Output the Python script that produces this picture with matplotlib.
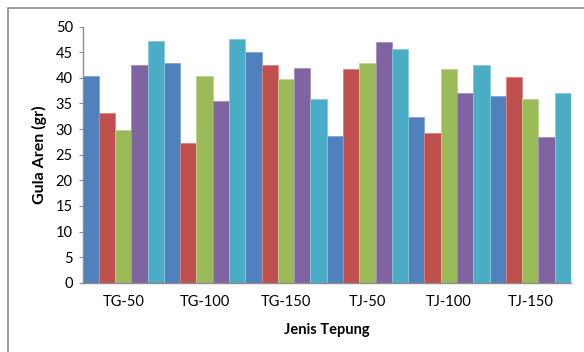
import matplotlib
matplotlib.use("Agg")
import matplotlib.pyplot as plt
import numpy as np
from matplotlib.patches import Rectangle

categories = ["TG-50", "TG-100", "TG-150", "TJ-50", "TJ-100", "TJ-150"]
# five series per category
s1 = [40.4, 43.0, 45.1, 28.6, 32.4, 36.5]
s2 = [33.2, 27.2, 42.6, 41.8, 29.3, 40.2]
s3 = [29.8, 40.3, 39.7, 43.0, 41.8, 35.8]
s4 = [42.5, 35.5, 41.9, 47.1, 37.1, 28.4]
s5 = [47.3, 47.5, 35.8, 45.7, 42.6, 37.1]
series = [s1, s2, s3, s4, s5]
colors = ["#4F81BD", "#C0504D", "#9BBB59", "#8064A2", "#4BACC6"]
edges = ["#7FA4D3", "#D98482", "#BCD38F", "#A58FC0", "#86C9DB"]

plt.rcParams["font.family"] = ["Lato", "DejaVu Sans"]

fig = plt.figure(figsize=(5.84, 3.52), dpi=100)
# chart-area border (only left and top are inside the crop)
fig.patches.append(Rectangle((8 / 584, -0.05), 1.2, (352 - 8) / 352 + 0.05,
                             transform=fig.transFigure, fill=False,
                             edgecolor="#8C8C8C", linewidth=1.2))

ax = fig.add_axes([82.5 / 584, (352 - 282.7) / 352, 488.5 / 584, 256 / 352])
x = np.arange(len(categories))
w = 0.2
for i, (vals, c, ec) in enumerate(zip(series, colors, edges)):
    ax.bar(x - 0.5 + w * (i + 0.5), vals, width=w, color=c,
           edgecolor=ec, linewidth=0.6)

ax.set_xlim(-0.5, len(categories) - 0.5)
ax.set_ylim(0, 50)
ax.set_yticks(range(0, 51, 5))
ax.set_xticks(x)
ax.set_xticklabels(categories)
for s in ("top", "right"):
    ax.spines[s].set_visible(False)
for s in ("left", "bottom"):
    ax.spines[s].set_color("#8C8C8C")
    ax.spines[s].set_linewidth(1.0)
ax.tick_params(axis="y", length=3, color="#8C8C8C", labelsize=10.5,
               labelcolor="#000000", pad=4)
ax.tick_params(axis="x", length=0, labelsize=10.5, pad=9)
ax.set_ylabel("Gula Aren (gr)", fontsize=11.5, fontweight="bold", labelpad=6)
ax.set_xlabel("Jenis Tepung", fontsize=10.5, fontweight="bold", labelpad=10)

fig.savefig("out.png", dpi=100)
